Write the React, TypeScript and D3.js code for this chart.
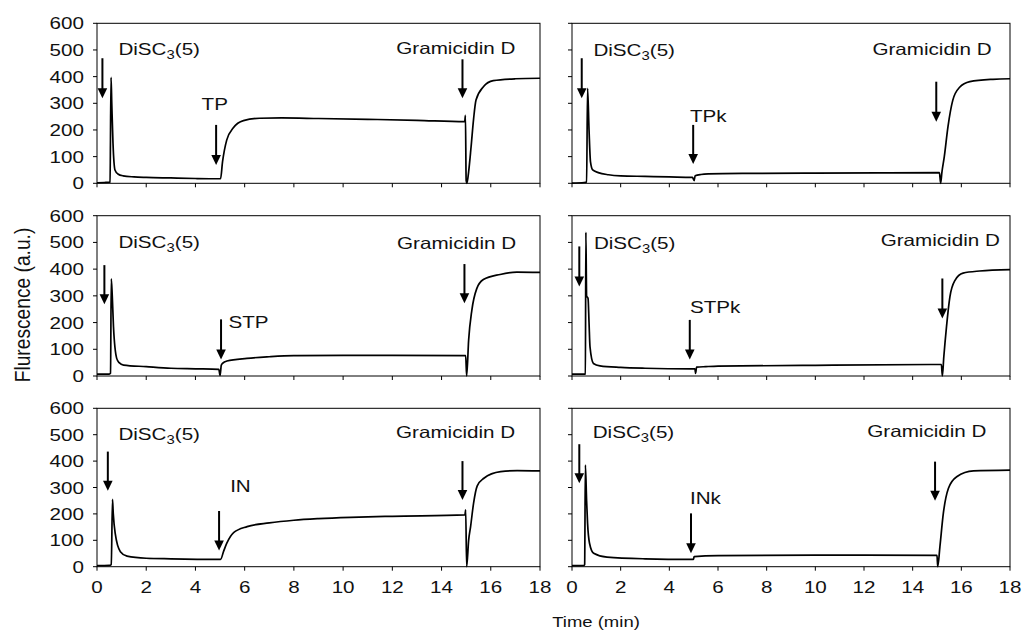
import React from "react"
import * as d3 from "d3"

// ── data (time in min, fluorescence in a.u.) ────────────────────────────────

const TIME_TICKS = [0, 2, 4, 6, 8, 10, 12, 14, 16, 18]
const FLUOR_TICKS = [0, 100, 200, 300, 400, 500, 600]

const TP: [number, number][] = [
  [0, 2], [0.3, 3], [0.5, 4], [0.53, 5], [0.57, 397], [0.6, 300], [0.65, 150],
  [0.73, 50], [0.85, 35], [1.06, 28], [1.5, 24], [2, 22], [3, 20], [4, 18],
  [4.95, 17], [5.02, 17], [5.1, 80], [5.27, 162], [5.54, 208], [5.95, 235],
  [6.6, 244], [7.5, 245], [9, 243], [11, 240], [13, 236], [14.94, 231],
  [14.97, 255], [15.0, 10], [15.03, 0], [15.1, 43], [15.2, 137], [15.3, 240],
  [15.4, 312], [15.7, 362], [16.1, 385], [17, 392], [18, 394],
]

const TPK: [number, number][] = [
  [0, 1], [0.5, 3], [0.6, 5], [0.64, 356], [0.7, 200], [0.76, 80], [0.85, 50],
  [1.08, 40], [1.5, 32], [2, 28], [3, 26], [4, 24], [4.95, 22], [5.02, 10],
  [5.06, 28], [5.3, 33], [5.6, 35], [7, 37], [10, 38], [13, 39], [15.1, 40],
  [15.15, 0], [15.2, 40], [15.3, 100], [15.45, 212], [15.65, 312],
  [15.93, 360], [16.35, 381], [17.3, 390], [18, 392],
]

const STP: [number, number][] = [
  [0, 7], [0.5, 7], [0.55, 10], [0.58, 364], [0.62, 300], [0.67, 184],
  [0.8, 66], [0.9, 50], [1.08, 41], [2, 35], [3, 29], [4, 27], [4.95, 25],
  [5.0, 2], [5.05, 40], [5.1, 47], [5.28, 56], [6.09, 66], [7, 72], [8, 76],
  [10, 77], [12, 77], [14.98, 76], [15.02, 0], [15.1, 134], [15.23, 246],
  [15.43, 327], [15.7, 361], [16.38, 380], [17.06, 389], [18, 388],
]

const STPK: [number, number][] = [
  [0, 7], [0.5, 7], [0.55, 8], [0.57, 538], [0.6, 300], [0.66, 290],
  [0.7, 200], [0.74, 109], [0.88, 47], [1.15, 38], [2, 32], [3, 29],
  [4.9, 27], [5.05, 27], [5.08, 10], [5.12, 33], [5.5, 35], [6, 37],
  [10, 40], [15.18, 43], [15.22, 0], [15.28, 72], [15.39, 184], [15.53, 296],
  [15.74, 358], [16.07, 385], [16.75, 393], [18, 398],
]

const IN: [number, number][] = [
  [0, 4], [0.5, 5], [0.58, 8], [0.63, 255], [0.66, 202], [0.74, 126],
  [0.95, 57], [1.22, 40], [2, 32], [3, 30], [4.9, 28], [5.02, 28], [5.15, 60],
  [5.27, 88], [5.55, 129], [6.1, 152], [7, 166], [8, 176], [9, 182],
  [10.3, 187], [12, 191], [14.95, 196], [14.98, 215], [15.02, 0], [15.1, 100],
  [15.18, 152], [15.3, 240], [15.45, 306], [15.72, 335], [16.4, 360],
  [17.07, 364], [18, 363],
]

const INK: [number, number][] = [
  [0, 4], [0.5, 5], [0.52, 8], [0.55, 385], [0.6, 250], [0.64, 164],
  [0.72, 89], [0.89, 51], [1.44, 36], [3, 30], [4.9, 28], [4.99, 28],
  [5.02, 38], [6, 42], [10, 44], [15.0, 43], [15.03, 0], [15.12, 76],
  [15.26, 202], [15.47, 297], [15.81, 341], [16.5, 363], [18, 366],
]

// annotations, in data units: arrows [t, top, tip], labels [t, baseline]
const PANELS = [
  {
    name: "TP", col: 0, row: 0, trace: TP,
    dyeArrow: [0.22, 469, 319], dyeLabel: [0.87, 480],
    agentArrow: [4.84, 219, 69], agentLabel: [4.25, 275],
    gramArrow: [14.85, 465, 319], gramLabel: [17.0, 484],
  },
  {
    name: "TPk", col: 1, row: 0, trace: TPK,
    dyeArrow: [0.4, 469, 319], dyeLabel: [0.88, 478],
    agentArrow: [4.98, 219, 72], agentLabel: [4.85, 231],
    gramArrow: [14.97, 381, 231], gramLabel: [17.24, 481],
  },
  {
    name: "STP", col: 0, row: 1, trace: STP,
    dyeArrow: [0.3, 415, 269], dyeLabel: [0.87, 480],
    agentArrow: [5.04, 212, 62], agentLabel: [5.34, 181],
    gramArrow: [14.93, 419, 272], gramLabel: [17.03, 476],
  },
  {
    name: "STPk", col: 1, row: 1, trace: STPK,
    dyeArrow: [0.3, 485, 335], dyeLabel: [0.9, 476],
    agentArrow: [4.84, 210, 62], agentLabel: [4.85, 235],
    gramArrow: [15.22, 365, 215], gramLabel: [17.58, 485],
  },
  {
    name: "IN", col: 0, row: 2, trace: IN,
    dyeArrow: [0.44, 436, 288], dyeLabel: [0.87, 480],
    agentArrow: [4.96, 211, 61], agentLabel: [5.41, 284],
    gramArrow: [14.85, 400, 253], gramLabel: [16.99, 486],
  },
  {
    name: "INk", col: 1, row: 2, trace: INK,
    dyeArrow: [0.3, 464, 316], dyeLabel: [0.85, 489],
    agentArrow: [4.89, 202, 51], agentLabel: [4.85, 236],
    gramArrow: [14.92, 398, 250], gramLabel: [17.03, 491],
  },
]

// ── layout ─────────────────────────────────────────────────────────────────

const COL_X = [[97, 540], [572, 1010]]
const ROW_Y = [[23.3, 183.3], [215.7, 376], [408.3, 566.7]]
const FONT = "'Liberation Sans', Arial, Helvetica, sans-serif"
const STRETCH = 1.25
const FS = 16.5

function Label({ x, y, anchor = "start", size = FS, children }: any) {
  return (
    <text
      transform={`translate(${x},${y}) scale(${STRETCH},1)`}
      textAnchor={anchor}
      fontSize={size}
      fontFamily={FONT}
      fill="#111"
    >
      {children}
    </text>
  )
}

function Arrow({ x, y1, y2 }: { x: number; y1: number; y2: number }) {
  const head = 10
  const half = 4.8
  return (
    <g>
      <line x1={x} x2={x} y1={y1} y2={y2 - head + 1} stroke="#000" strokeWidth={2} />
      <path d={`M${x - half},${y2 - head} L${x + half},${y2 - head} L${x},${y2} Z`} fill="#000" />
    </g>
  )
}

function Panel({ p }: { p: any }) {
  const [x0, x1] = COL_X[p.col]
  const [yTop, yBot] = ROW_Y[p.row]
  const x = d3.scaleLinear().domain([0, 18]).range([x0, x1])
  const y = d3.scaleLinear().domain([0, 600]).range([yBot, yTop])
  const line = d3
    .line<[number, number]>()
    .x(d => x(d[0]))
    .y(d => y(d[1]))
    .curve(d3.curveMonotoneX)

  const showY = p.col === 0
  const showX = p.row === 2

  return (
    <g>
      <rect x={x0} y={yTop} width={x1 - x0} height={yBot - yTop} fill="none" stroke="#000" strokeWidth={1} />

      {FLUOR_TICKS.map(t => (
        <g key={"y" + t}>
          <line x1={x0 - 4} x2={x0} y1={y(t)} y2={y(t)} stroke="#000" strokeWidth={1} />
          {showY && (
            <Label x={x0 - 13} y={y(t) + 6} anchor="end">
              {t}
            </Label>
          )}
        </g>
      ))}

      {TIME_TICKS.map(t => (
        <g key={"x" + t}>
          <line x1={x(t)} x2={x(t)} y1={yBot} y2={yBot + 4} stroke="#000" strokeWidth={1} />
          {showX && (
            <Label x={x(t)} y={yBot + 26} anchor="middle">
              {t}
            </Label>
          )}
        </g>
      ))}

      <path d={line(p.trace) ?? ""} fill="none" stroke="#000" strokeWidth={1.7} strokeLinejoin="round" />

      <Arrow x={x(p.dyeArrow[0])} y1={y(p.dyeArrow[1])} y2={y(p.dyeArrow[2])} />
      <Arrow x={x(p.agentArrow[0])} y1={y(p.agentArrow[1])} y2={y(p.agentArrow[2])} />
      <Arrow x={x(p.gramArrow[0])} y1={y(p.gramArrow[1])} y2={y(p.gramArrow[2])} />

      <Label x={x(p.dyeLabel[0])} y={y(p.dyeLabel[1])}>
        DiSC
        <tspan fontSize={FS * 0.72} dy={4}>3</tspan>
        <tspan dy={-4}>(5)</tspan>
      </Label>
      <Label x={x(p.agentLabel[0])} y={y(p.agentLabel[1])}>
        {p.name}
      </Label>
      <Label x={x(p.gramLabel[0])} y={y(p.gramLabel[1])} anchor="end">
        Gramicidin D
      </Label>
    </g>
  )
}

export default function App() {
  return (
    <svg
      width={1028}
      height={638}
      style={{ position: "absolute", left: 0, top: 0, background: "#fff" }}
    >
      {PANELS.map(p => (
        <Panel key={p.name} p={p} />
      ))}
      <text
        transform={`translate(30,${(ROW_Y[0][0] + ROW_Y[2][1]) / 2 + 10}) scale(1.12,1) rotate(-90)`}
        textAnchor="middle"
        fontSize={19.2}
        fontFamily={FONT}
        fill="#111"
      >
        Flurescence (a.u.)
      </text>
      <Label x={596} y={627} anchor="middle" size={14.8}>
        Time (min)
      </Label>
    </svg>
  )
}
